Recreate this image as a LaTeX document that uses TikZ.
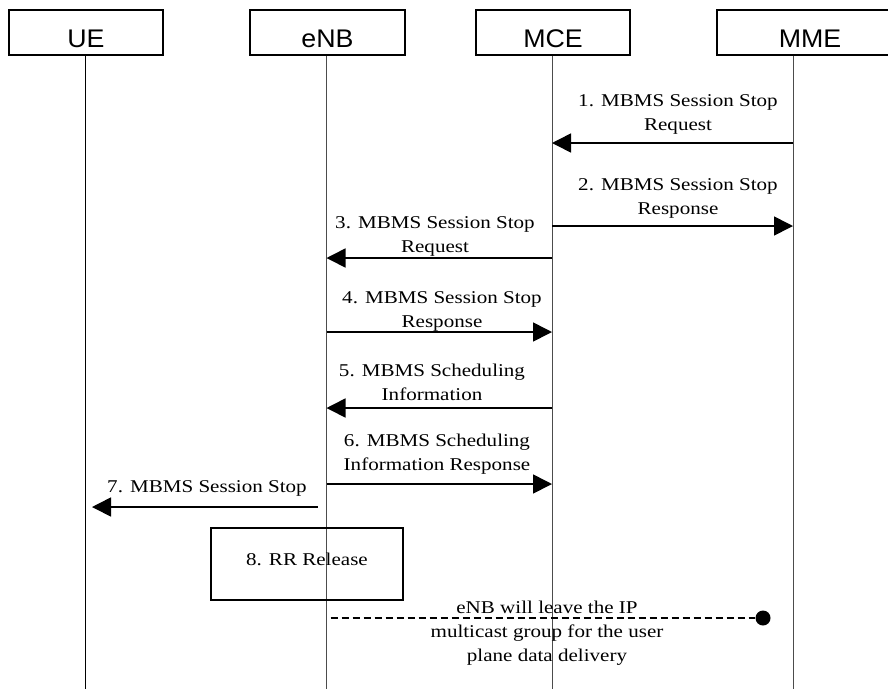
\documentclass[tikz,border=0pt]{standalone}
\usepackage{fontspec}
\setmainfont[FakeStretch=1.17]{Liberation Serif}
\newfontfamily\boxfont[FakeStretch=1.05]{Liberation Sans}
\usetikzlibrary{arrows.meta}
\begin{document}
\begin{tikzpicture}[x=1pt,y=-1pt,
  entity/.style={draw,line width=1.5pt,inner sep=0pt,minimum height=45pt,
    text height=29pt,text depth=0pt,font=\boxfont\fontsize{25.5}{30}\selectfont},
  lifeline/.style={line width=1pt,black!70},
  msg/.style={line width=1.6pt,-{Triangle[length=19pt,width=19pt]}},
  lbl/.style={align=center,inner sep=0pt,anchor=base,font=\fontsize{18}{24}\selectfont},
  rrbox/.style={draw,line width=1.5pt,inner sep=0pt,minimum width=192pt,minimum height=72pt,
    text height=10pt,text depth=8pt,font=\fontsize{18}{24}\selectfont},
  enddot/.style={circle,fill=black,inner sep=0pt,minimum size=15pt}]
\useasboundingbox (0,0) rectangle (888,689);
\clip (0,0) rectangle (888,689);
\fill[white] (0,0) rectangle (888,689);
% lifeline reference coordinates
\coordinate (ueL) at (85,0);
\coordinate (enbL) at (326.5,0);
\coordinate (mceL) at (552,0);
\coordinate (mmeL) at (793,0);
\coordinate (bottom) at (0,689);
% entity boxes
\node[entity,minimum width=154pt] (ue) at (86,32.5) {UE};
\node[entity,minimum width=155pt] (enb) at (327.5,32.5) {eNB};
\node[entity,minimum width=154pt] (mce) at (553,32.5) {MCE};
\node[entity,minimum width=186pt] (mme) at (810,32.5) {MME};
% lifelines
\draw[line width=1pt,black] (ueL |- ue.south) -- (ueL |- bottom);
\draw[lifeline] (enbL |- enb.south) -- (enbL |- bottom);
\draw[lifeline] (mceL |- mce.south) -- (mceL |- bottom);
\draw[lifeline] (mmeL |- mme.south) -- (mmeL |- bottom);
% messages (label anchor = baseline of the last line)
\node[lbl] (l1) at (678,130) {1. MBMS Session Stop\\Request};
\draw[msg] ([yshift=-143pt]mmeL) -- ([yshift=-143pt]mceL);
\node[lbl] (l2) at (678,214) {2. MBMS Session Stop\\Response};
\draw[msg] ([yshift=-226pt]mceL) -- ([yshift=-226pt]mmeL);
\node[lbl] (l3) at (435,252) {3. MBMS Session Stop\\Request};
\draw[msg] ([yshift=-258pt]mceL) -- ([yshift=-258pt]enbL);
\node[lbl] (l4) at (442,327) {4. MBMS Session Stop\\Response};
\draw[msg] ([yshift=-332pt]enbL) -- ([yshift=-332pt]mceL);
\node[lbl] (l5) at (432,400) {5. MBMS Scheduling\\Information};
\draw[msg] ([yshift=-408pt]mceL) -- ([yshift=-408pt]enbL);
\node[lbl] (l6) at (437,470) {6. MBMS Scheduling\\Information Response};
\draw[msg] ([yshift=-484pt]enbL) -- ([yshift=-484pt]mceL);
\node[lbl] (l7) at (207,492) {7. MBMS Session Stop};
\draw[msg] ([xshift=-9pt,yshift=-507pt]enbL) -- ([xshift=7pt,yshift=-507pt]ueL);
% RR release box
\node[rrbox] (rr) at (307,564) {8. RR Release};
% multicast leave
\node[enddot] (dot) at (763,618) {};
\draw[line width=1.3pt,dash pattern=on 7pt off 4pt] ([xshift=4pt,yshift=-618pt]enbL) -- (dot);
\node[lbl] (l9) at (547,661) {eNB will leave the IP\\multicast group for the user\\plane data delivery};
\end{tikzpicture}
\end{document}
